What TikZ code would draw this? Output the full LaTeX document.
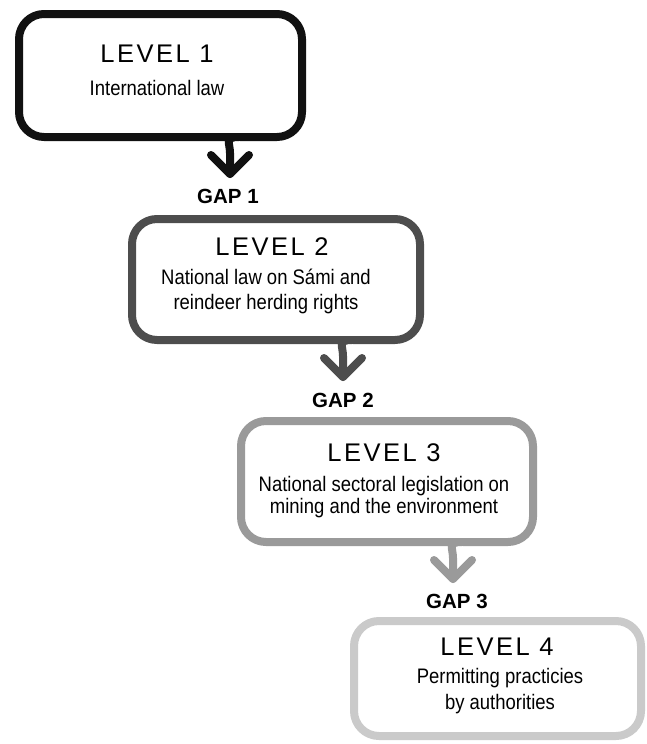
\documentclass[tikz,border=0pt]{standalone}
\usepackage{fontspec}
\setmainfont{Liberation Sans}
\newfontfamily\bodyfont[FakeStretch=0.88]{Liberation Sans}
\newfontfamily\levelfont[LetterSpace=10]{Liberation Sans}
\definecolor{cone}{HTML}{111111}
\definecolor{ctwo}{HTML}{4D4D4D}
\definecolor{cthree}{HTML}{9A9A9A}
\definecolor{cfour}{HTML}{CACACA}
\tikzset{
  bubble/.style={line width=8pt, line cap=round, line join=round},
  leveltxt/.style={anchor=base, inner sep=0pt, font=\levelfont\fontsize{25.5}{30}\selectfont},
  bodytxt/.style={anchor=base, inner sep=0pt, align=center, font=\bodyfont\fontsize{21}{#1}\selectfont},
  bodytxt/.default=25,
  gaptxt/.style={anchor=base, inner sep=0pt, font=\bfseries\fontsize{20.5}{24}\selectfont},
}
\newcommand{\tailbox}[6]{% color, L, T, R, B, X
  \draw[bubble, #1, rounded corners=25pt]
    ({#6+10},#5) -- (#4,#5) -- (#4,#3) -- (#2,#3) -- (#2,#5) -- ({#6-16},#5)
    [sharp corners] .. controls ({#6-6},#5) and (#6,{#5+6}) .. (#6,{#5+16}) -- (#6,{#5+37});
  \draw[bubble, #1] ({#6-19},{#5+18}) -- (#6,{#5+37}) -- ({#6+19},{#5+18});
}
\begin{document}
\begin{tikzpicture}[x=1pt,y=-1pt]
\useasboundingbox (0,0) rectangle (646,744);
% boxes
\tailbox{cone}{19}{14}{302}{137}{230}
\tailbox{ctwo}{132}{219}{420}{340}{343}
\tailbox{cthree}{241}{421}{533}{542}{453}
\draw[bubble, cfour, rounded corners=25pt] (354,621) rectangle (641,736);
% texts
\node[leveltxt] (l1) at (157,62) {LEVEL 1};
\node[bodytxt] (t1) at (157,95.5) {International law};
\node[gaptxt] (g1) at (228,203.5) {GAP 1};
\node[leveltxt] (l2) at (272,255) {LEVEL 2};
\node[bodytxt] (t2) at (266,309.5) {National law on Sámi and\\reindeer herding rights};
\node[gaptxt] (g2) at (343,407.5) {GAP 2};
\node[leveltxt] (l3) at (384,461) {LEVEL 3};
\node[bodytxt=22] (t3) at (384,513.5) {National sectoral legislation on\\mining and the environment};
\node[gaptxt] (g3) at (457,608.5) {GAP 3};
\node[leveltxt] (l4) at (497,655) {LEVEL 4};
\node[bodytxt=26] (t4) at (500,709.5) {Permitting practicies\\by authorities};
\end{tikzpicture}
\end{document}
